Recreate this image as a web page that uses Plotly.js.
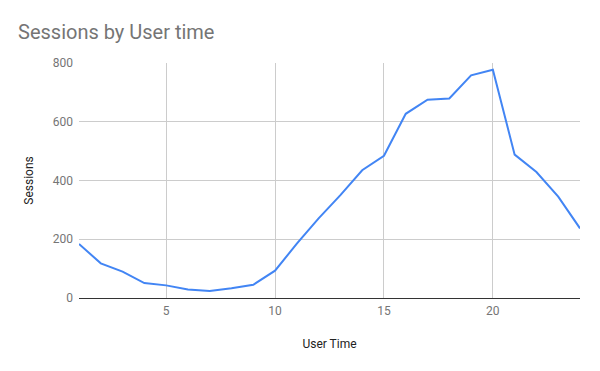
<!DOCTYPE html>
<html>
<head>
<meta charset="utf-8">
<script src="https://cdn.plot.ly/plotly-3.0.1.min.js"></script>
<style>html,body{margin:0;padding:0;background:#fff}#chart{width:600px;height:371px}</style>
</head>
<body>
<div id="chart"></div>
<script>
const userTime = [1,2,3,4,5,6,7,8,9,10,11,12,13,14,15,16,17,18,19,20,21,22,23,24];
const sessions = [184,118,90,51,43,29,24,33,45,93,185,271,350,435,484,627,675,679,758,777,488,429,345,237];
const xTickVals = [5,10,15,20];
const yTickVals = [0,200,400,600,800];

const trace = {
  x: userTime,
  y: sessions,
  type: 'scatter',
  mode: 'lines',
  line: {color: '#4285f4', width: 2},
  hoverinfo: 'x+y'
};

const layout = {
  width: 600,
  height: 371,
  margin: {l: 79, r: 20, t: 63, b: 73},
  paper_bgcolor: '#ffffff',
  plot_bgcolor: '#ffffff',
  font: {family: 'Roboto, Arial, sans-serif', size: 12, color: '#757575'},
  title: {
    text: 'Sessions by User time',
    font: {family: 'Roboto, Arial, sans-serif', size: 20, color: '#757575'},
    x: 18 / 600, xref: 'container', xanchor: 'left',
    y: 1 - 32 / 371, yref: 'container', yanchor: 'middle'
  },
  showlegend: false,
  xaxis: {
    range: [1, 24],
    tickvals: xTickVals,
    ticktext: xTickVals.map(String),
    showgrid: true,
    gridcolor: '#cccccc',
    gridwidth: 1,
    zeroline: false,
    showline: true,
    linecolor: '#333333',
    linewidth: 1,
    ticks: '',
    ticklabelstandoff: 2,
    tickfont: {size: 12, color: '#757575'},
    title: {text: 'User Time', font: {size: 12, color: '#222222'}, standoff: 22}
  },
  yaxis: {
    range: [0, 800],
    tickvals: yTickVals,
    ticktext: yTickVals.map(String),
    showgrid: true,
    gridcolor: '#cccccc',
    gridwidth: 1,
    zeroline: false,
    showline: false,
    ticks: '',
    ticklabelstandoff: 5,
    tickfont: {size: 12, color: '#757575'},
    title: {text: 'Sessions', font: {size: 12, color: '#222222'}, standoff: 16}
  }
};

Plotly.newPlot('chart', [trace], layout, {displayModeBar: false, staticPlot: true});
</script>
</body>
</html>
